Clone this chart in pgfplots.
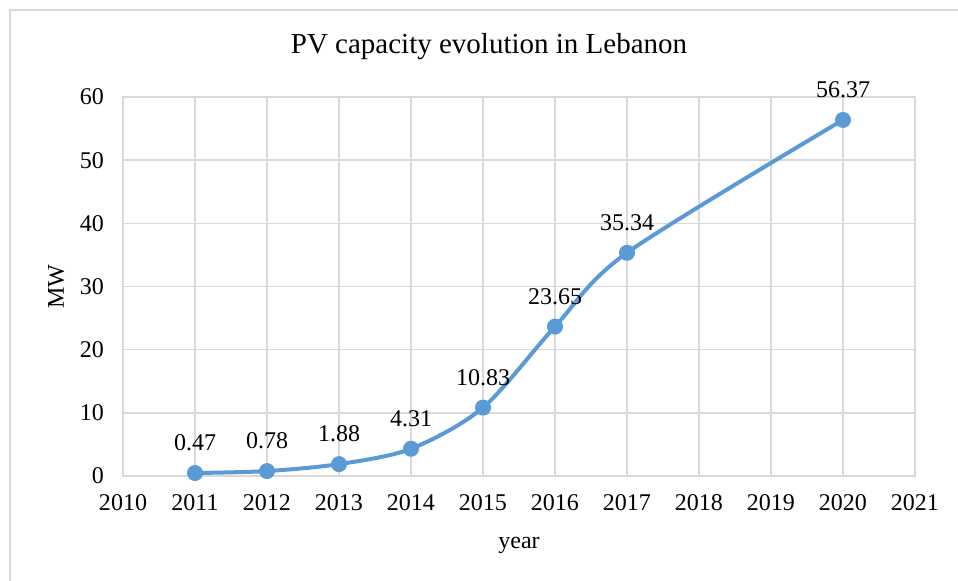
\documentclass[border=0pt]{standalone}
\usepackage{pgfplots}
\pgfplotsset{compat=1.18}
\usepackage{fontspec}
\setmainfont{Liberation Serif}
\definecolor{xlblue}{HTML}{5B9BD5}
\definecolor{xlgrid}{HTML}{D9D9D9}
\begin{document}
\begin{tikzpicture}
% 1px = 0.5pt, axis origin at (123px, 476px)
\useasboundingbox (-61.5pt,-52.5pt) rectangle (417.5pt,238pt);
\draw[xlgrid, line width=1pt] (-56.5pt,-60pt) -- (-56.5pt,233pt) -- (430pt,233pt);
\begin{axis}[
  scale only axis, width=396pt, height=189.5pt,
  xmin=2010, xmax=2021, ymin=0, ymax=60,
  xtick={2010,...,2021}, ytick={0,10,...,60},
  grid=major, grid style={xlgrid, line width=0.75pt},
  axis line style={xlgrid, line width=0.75pt},
  major tick length=0pt,
  tick label style={font=\fontsize{12}{14}\selectfont},
  /pgf/number format/assume math mode=true,
  /pgf/number format/1000 sep={},
  x tick label style={yshift=-5.5pt},
  y tick label style={xshift=-6pt},
  xlabel={year}, ylabel={MW},
  label style={font=\fontsize{12}{14}\selectfont},
  xlabel style={yshift=-6.5pt},
  ylabel style={yshift=1pt},
  clip=false,
]
\addplot[xlblue, line width=2pt, smooth, tension=0.5,
  mark=*, mark size=3.75pt, mark options={fill=xlblue, draw=xlblue, line width=0.5pt},
  nodes near coords,
  every node near coord/.style={font=\fontsize{12}{14}\selectfont, color=black, anchor=south, yshift=7.5pt},
  point meta=explicit symbolic]
coordinates {
  (2011,0.47) [0.47]
  (2012,0.78) [0.78]
  (2013,1.88) [1.88]
  (2014,4.31) [4.31]
  (2015,10.83) [10.83]
  (2016,23.65) [23.65]
  (2017,35.34) [35.34]
  (2020,56.37) [56.37]
};
\end{axis}
\node[font=\fontsize{14.5}{16}\selectfont] at (183pt,214.5pt) {PV capacity evolution in Lebanon};
\end{tikzpicture}
\end{document}
